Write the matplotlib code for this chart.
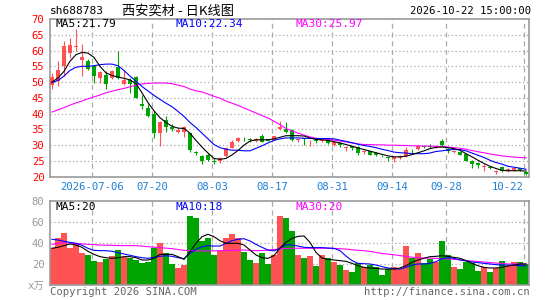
import numpy as np
import matplotlib
matplotlib.use("Agg")
import matplotlib.pyplot as plt

plt.rcParams['font.family'] = ['DejaVu Sans Mono', 'Noto Sans CJK SC']

# daily K line, 80 trading days
opens = [49.0, 50.5, 55.0, 59.2, 61.2, 57.0, 56.6, 55.0, 51.3, 52.4,
         51.2, 54.7, 49.3, 50.8, 51.6, 43.2, 41.8, 39.9, 33.8, 38.1,
         35.9, 34.3, 34.1, 33.8, 27.9, 26.6, 27.0, 25.0, 25.0, 26.5,
         29.2, 31.2, 32.1, 31.8, 31.3, 32.9, 31.8, 31.7, 35.0, 35.0,
         34.8, 31.6, 32.2, 30.6, 31.5, 31.4, 32.2, 30.0, 30.7, 29.1,
         29.7, 29.3, 27.8, 28.0, 27.6, 26.7, 26.2, 25.5, 26.0, 26.6,
         28.3, 28.7, 29.6, 29.6, 29.4, 31.2, 28.9, 27.9, 27.8, 27.2,
         25.0, 24.2, 23.2, 23.1, 21.5, 23.1, 21.9, 22.2, 22.6, 21.6]
closes = [51.5, 53.7, 61.3, 61.8, 61.5, 57.8, 54.2, 51.9, 53.1, 49.5,
          53.4, 51.2, 50.8, 49.5, 44.9, 42.5, 39.1, 33.8, 37.5, 35.9,
          35.2, 34.8, 35.7, 28.4, 27.5, 25.1, 25.2, 24.8, 26.0, 29.2,
          31.0, 32.2, 31.9, 31.6, 32.0, 31.0, 31.4, 32.9, 35.9, 34.2,
          31.5, 31.8, 32.0, 30.8, 31.2, 31.6, 30.6, 31.0, 29.9, 29.3,
          29.0, 27.6, 28.0, 27.0, 26.9, 26.5, 26.0, 26.3, 26.2, 28.4,
          28.0, 29.6, 29.4, 29.5, 29.7, 30.0, 28.0, 28.0, 27.0, 25.0,
          24.0, 23.6, 23.4, 22.9, 21.7, 21.9, 22.3, 22.8, 22.1, 20.9]
highs = [53.0, 56.6, 62.9, 63.9, 66.8, 62.0, 57.4, 55.3, 53.5, 53.4,
         53.9, 59.7, 53.7, 51.2, 52.0, 45.9, 43.0, 40.9, 37.6, 39.3,
         36.6, 35.4, 36.2, 34.0, 28.3, 27.0, 27.6, 25.9, 26.3, 29.3,
         31.5, 32.6, 32.6, 32.2, 32.2, 33.4, 32.0, 33.0, 37.8, 37.5,
         35.0, 32.3, 32.3, 31.6, 31.8, 31.8, 32.3, 31.2, 31.0, 29.6,
         29.8, 29.6, 28.4, 28.2, 27.8, 26.9, 26.4, 26.3, 26.8, 29.4,
         28.9, 30.0, 30.0, 30.3, 30.2, 32.0, 29.2, 28.3, 28.0, 27.3,
         25.2, 24.6, 23.9, 23.5, 22.0, 23.3, 22.6, 22.9, 22.8, 21.8]
lows = [47.7, 48.7, 51.9, 57.6, 60.0, 52.0, 53.8, 49.8, 49.8, 47.7,
        50.9, 51.0, 49.0, 46.6, 44.8, 41.6, 39.0, 32.4, 29.7, 34.3,
        34.5, 33.8, 32.5, 27.9, 26.9, 24.0, 24.9, 23.9, 24.3, 26.3,
        29.0, 31.0, 31.3, 31.1, 31.1, 31.0, 31.2, 31.6, 34.8, 33.8,
        31.3, 31.0, 30.0, 29.8, 30.7, 31.0, 30.4, 29.6, 29.4, 28.3,
        28.4, 27.0, 27.2, 26.9, 26.5, 26.3, 24.9, 24.6, 25.7, 26.1,
        27.6, 28.6, 29.0, 29.2, 29.2, 29.8, 27.6, 27.4, 26.8, 24.9,
        22.8, 22.8, 21.8, 22.3, 21.0, 21.5, 21.4, 21.9, 21.9, 20.6]
vols = [35.0, 44.4, 49.8, 35.0, 38.7, 30.8, 28.6, 23.2, 21.6, 24.8,
        27.6, 33.3, 26.3, 26.0, 23.8, 21.3, 22.2, 35.0, 40.3, 30.2,
        19.7, 16.5, 19.0, 66.0, 64.1, 41.9, 45.1, 28.6, 32.7, 44.4,
        48.6, 44.4, 31.7, 23.8, 21.3, 30.2, 20.0, 28.6, 65.7, 64.1,
        51.4, 28.6, 25.4, 27.6, 18.1, 28.6, 25.4, 21.6, 19.0, 14.3,
        12.4, 20.6, 16.8, 19.0, 16.8, 9.5, 14.9, 16.8, 14.9, 37.1,
        26.0, 30.2, 20.6, 24.4, 22.2, 41.9, 28.6, 16.8, 14.9, 22.2,
        20.6, 13.3, 17.5, 12.7, 15.9, 22.9, 18.1, 21.6, 21.6, 20.0]

# moving averages as shown on the chart
ma5 = [50.0, 51.3, 53.4, 56.6, 58.7, 59.4, 59.2, 57.8, 55.0, 52.9,
       52.1, 51.6, 51.2, 50.7, 49.5, 46.6, 43.5, 40.9, 38.7, 37.2,
       36.0, 35.4, 35.3, 33.8, 31.5, 29.4, 27.5, 25.8, 25.5, 25.8,
       26.9, 28.3, 30.0, 31.3, 31.7, 31.7, 31.7, 32.0, 32.5, 33.0,
       33.0, 33.0, 32.9, 32.3, 31.8, 31.7, 31.5, 31.1, 30.7, 30.2,
       29.7, 29.1, 28.6, 28.1, 27.6, 27.1, 26.6, 26.3, 26.3, 26.5,
       27.0, 27.6, 28.2, 28.9, 29.3, 29.4, 29.2, 28.9, 28.4, 27.3,
       26.3, 25.2, 24.2, 23.3, 22.6, 22.0, 21.9, 21.9, 21.9, 21.79]
ma10 = [49.8, 50.5, 51.9, 53.7, 54.7, 55.0, 55.0, 55.2, 55.5, 55.7,
        55.7, 55.2, 53.7, 51.9, 50.3, 48.6, 47.2, 45.8, 44.5, 43.3,
        42.2, 40.7, 39.1, 37.2, 35.6, 33.8, 32.0, 30.2, 29.2, 28.7,
        28.4, 28.4, 28.2, 28.2, 29.0, 29.8, 30.7, 31.5, 32.0, 32.3,
        32.3, 32.3, 32.2, 32.1, 32.1, 32.1, 32.1, 32.0, 31.6, 31.2,
        30.8, 30.3, 29.9, 29.6, 29.2, 28.7, 28.3, 27.8, 27.6, 27.5,
        27.3, 27.3, 27.3, 27.5, 28.0, 28.2, 28.5, 28.6, 28.6, 28.2,
        27.5, 26.8, 26.1, 25.2, 24.5, 24.0, 23.3, 23.0, 22.7, 22.34]
ma30 = [40.5, 41.2, 41.9, 42.7, 43.4, 44.0, 44.7, 45.3, 45.9, 46.6,
        47.1, 47.6, 48.0, 48.5, 49.0, 49.4, 49.6, 49.7, 49.7, 49.7,
        49.5, 49.0, 48.6, 47.8, 47.2, 46.9, 46.2, 45.5, 44.9, 44.0,
        43.3, 42.6, 41.8, 41.0, 40.2, 39.4, 38.6, 37.6, 36.5, 35.3,
        34.5, 33.8, 33.2, 32.6, 32.2, 32.0, 31.8, 31.6, 31.3, 31.0,
        30.7, 30.4, 30.2, 30.2, 30.1, 30.1, 30.0, 30.0, 29.9, 29.9,
        29.8, 29.8, 29.7, 29.7, 29.6, 29.6, 29.4, 29.2, 29.0, 28.7,
        28.3, 27.9, 27.6, 27.2, 26.9, 26.6, 26.4, 26.2, 26.1, 25.97]
vma5 = [35.0, 35.9, 37.5, 39.1, 38.1, 35.9, 32.1, 29.2, 27.0, 26.0,
        25.4, 26.0, 27.0, 27.0, 26.0, 23.8, 23.8, 25.4, 29.2, 29.2,
        29.2, 27.0, 24.4, 31.7, 39.7, 46.0, 48.3, 46.0, 42.2, 39.7,
        39.7, 39.7, 38.1, 33.3, 28.6, 26.0, 25.4, 28.0, 35.2, 40.6,
        44.4, 46.3, 46.7, 40.6, 31.1, 25.7, 24.4, 23.8, 23.2, 22.5,
        20.6, 18.4, 16.8, 16.2, 15.9, 15.2, 15.2, 15.2, 16.2, 18.4,
        21.6, 23.8, 25.4, 27.0, 27.3, 27.9, 27.3, 26.3, 25.4, 23.2,
        20.6, 18.4, 16.8, 16.2, 16.2, 16.8, 18.1, 19.0, 20.0, 20.0]
vma10 = [43.5, 42.9, 41.6, 40.6, 39.7, 37.8, 34.9, 33.0, 32.7, 32.7,
         32.1, 30.8, 29.5, 28.3, 27.0, 26.0, 25.4, 26.3, 27.3, 27.9,
         27.3, 26.0, 25.1, 30.2, 34.0, 36.5, 37.5, 37.1, 37.1, 39.7,
         42.2, 43.5, 44.1, 41.9, 38.7, 35.9, 33.3, 32.5, 34.9, 38.4,
         38.1, 37.1, 35.9, 35.6, 35.6, 35.6, 35.2, 34.9, 32.7, 27.6,
         23.2, 20.6, 20.3, 20.0, 19.0, 17.5, 16.2, 15.6, 15.2, 16.8,
         19.0, 20.0, 20.0, 20.6, 22.2, 25.1, 26.0, 25.4, 23.8, 22.9,
         21.9, 21.3, 20.6, 20.0, 19.4, 19.0, 19.0, 18.7, 18.4, 18.1]
vma30 = [38.7, 39.5, 40.3, 40.0, 39.7, 39.2, 38.7, 38.4, 38.1, 37.9,
         37.8, 37.6, 37.5, 37.5, 37.5, 37.0, 36.5, 36.0, 35.6, 35.1,
         34.6, 33.8, 33.0, 32.7, 32.4, 32.4, 32.4, 32.5, 32.7, 32.8,
         33.0, 33.2, 33.3, 33.0, 32.7, 32.8, 33.2, 33.8, 34.5, 34.8,
         35.0, 35.0, 35.0, 35.0, 35.0, 35.0, 35.0, 34.8, 34.6, 34.2,
         33.6, 33.1, 32.7, 32.0, 31.0, 30.0, 29.4, 28.8, 28.0, 27.2,
         26.5, 26.0, 25.8, 25.6, 25.4, 25.1, 24.8, 24.4, 24.0, 23.4,
         22.8, 22.4, 21.9, 21.3, 20.9, 20.5, 20.0, 20.0, 20.0, 20.0]

date_idx = [7, 17, 27, 37, 47, 57, 66, 79]
date_labels = ["2026-07-06", "07-20", "08-03", "08-17", "08-31", "09-14", "09-28", "10-22"]

RED = '#ff5252'
GREEN = '#00a400'
GRAY = '#999999'
W, H = 545.0, 300.0

o = np.array(opens); c = np.array(closes)
idx = np.arange(len(closes))
colors = np.where(c >= o, RED, GREEN)
grid_x = np.array(date_idx) - 0.33

fig = plt.figure(figsize=(5.45, 3.0), dpi=100)
ax = fig.add_axes([50 / W, 1 - 176.7 / H, 479 / W, 157.7 / H])
axv = fig.add_axes([50 / W, 1 - 285 / H, 479 / W, 84 / H])

for a in (ax, axv):
    a.set_xlim(-0.33, 79.5)
    for s in a.spines.values():
        s.set_color(GRAY)
        s.set_linewidth(1.2)
    a.set_xticks([])
    for gx in grid_x:
        a.axvline(gx, color='#aaaaaa', lw=0.9, ls=(0, (4, 3)), zorder=0)

# price panel
ax.set_ylim(20, 70)
for gy in range(25, 70, 5):
    ax.axhline(gy, color='#aaaaaa', lw=0.9, ls=(0, (1, 2)), zorder=0)
ax.vlines(idx, lows, highs, colors=colors, lw=0.8, zorder=2)
body = np.maximum(np.abs(c - o), 0.15)
ax.bar(idx, body, bottom=np.minimum(o, c), width=0.8, color=colors, lw=0, zorder=3)
ax.plot(idx, ma30, color='#ff00ff', lw=0.8, zorder=4)
ax.plot(idx, ma10, color='#0000ff', lw=0.8, zorder=4)
ax.plot(idx, ma5, color='black', lw=0.8, zorder=4)
ax.set_yticks(range(20, 71, 5))
ax.tick_params(axis='y', length=0, labelcolor='red', labelsize=7.6, pad=4)

# volume panel
axv.set_ylim(0, 80)
for gy in (20, 40, 60):
    axv.axhline(gy, color='#aaaaaa', lw=0.9, ls=(0, (1, 2)), zorder=0)
axv.bar(idx, vols, width=0.85, color=colors, lw=0, zorder=2)
axv.plot(idx, vma30, color='#ff00ff', lw=0.8, zorder=4)
axv.plot(idx, vma10, color='#0000ff', lw=0.8, zorder=4)
axv.plot(idx, vma5, color='black', lw=0.8, zorder=4)
axv.set_yticks([0, 20, 40, 60, 80])
axv.set_yticklabels(['x万', '20', '40', '60', '80'])
axv.tick_params(axis='y', length=0, labelcolor=GRAY, labelsize=7.6, pad=4)


def ftext(x, y, s, **kw):
    fig.text(x / W, 1 - y / H, s, va='center', **kw)


# headers
ftext(50, 11, "sh688783", fontsize=8, color='black')
ftext(122, 11, "西安奕材 - 日K线图", fontsize=9.5, color='black', family=['Noto Sans CJK SC'])
ftext(531, 11, "2026-10-22 15:00:00", fontsize=7.6, color='black', ha='right')
ftext(55, 24, "MA5:21.79", fontsize=8, color='black')
ftext(176, 24, "MA10:22.34", fontsize=8, color='#0000ff')
ftext(296, 24, "MA30:25.97", fontsize=8, color='#ff00ff')
ftext(55, 207, "MA5:20", fontsize=8, color='black')
ftext(176, 207, "MA10:18", fontsize=8, color='#0000ff')
ftext(296, 207, "MA30:20", fontsize=8, color='#ff00ff')

# date labels
for gx, lab in zip(grid_x, date_labels):
    px = 50 + (gx + 0.33) * 479 / 79.83
    ha = 'center'
    if lab == date_labels[-1]:
        ha = 'right'
    ftext(px, 187, lab, fontsize=7.6, color='#1c7fd6', ha=ha)

ftext(50, 292, "Copyright 2026 SINA.COM", fontsize=7.6, color='#666666')
ftext(530, 292, "http://finance.sina.com.cn", fontsize=7.6, color='#666666', ha='right')

fig.savefig("out.png", dpi=100)
